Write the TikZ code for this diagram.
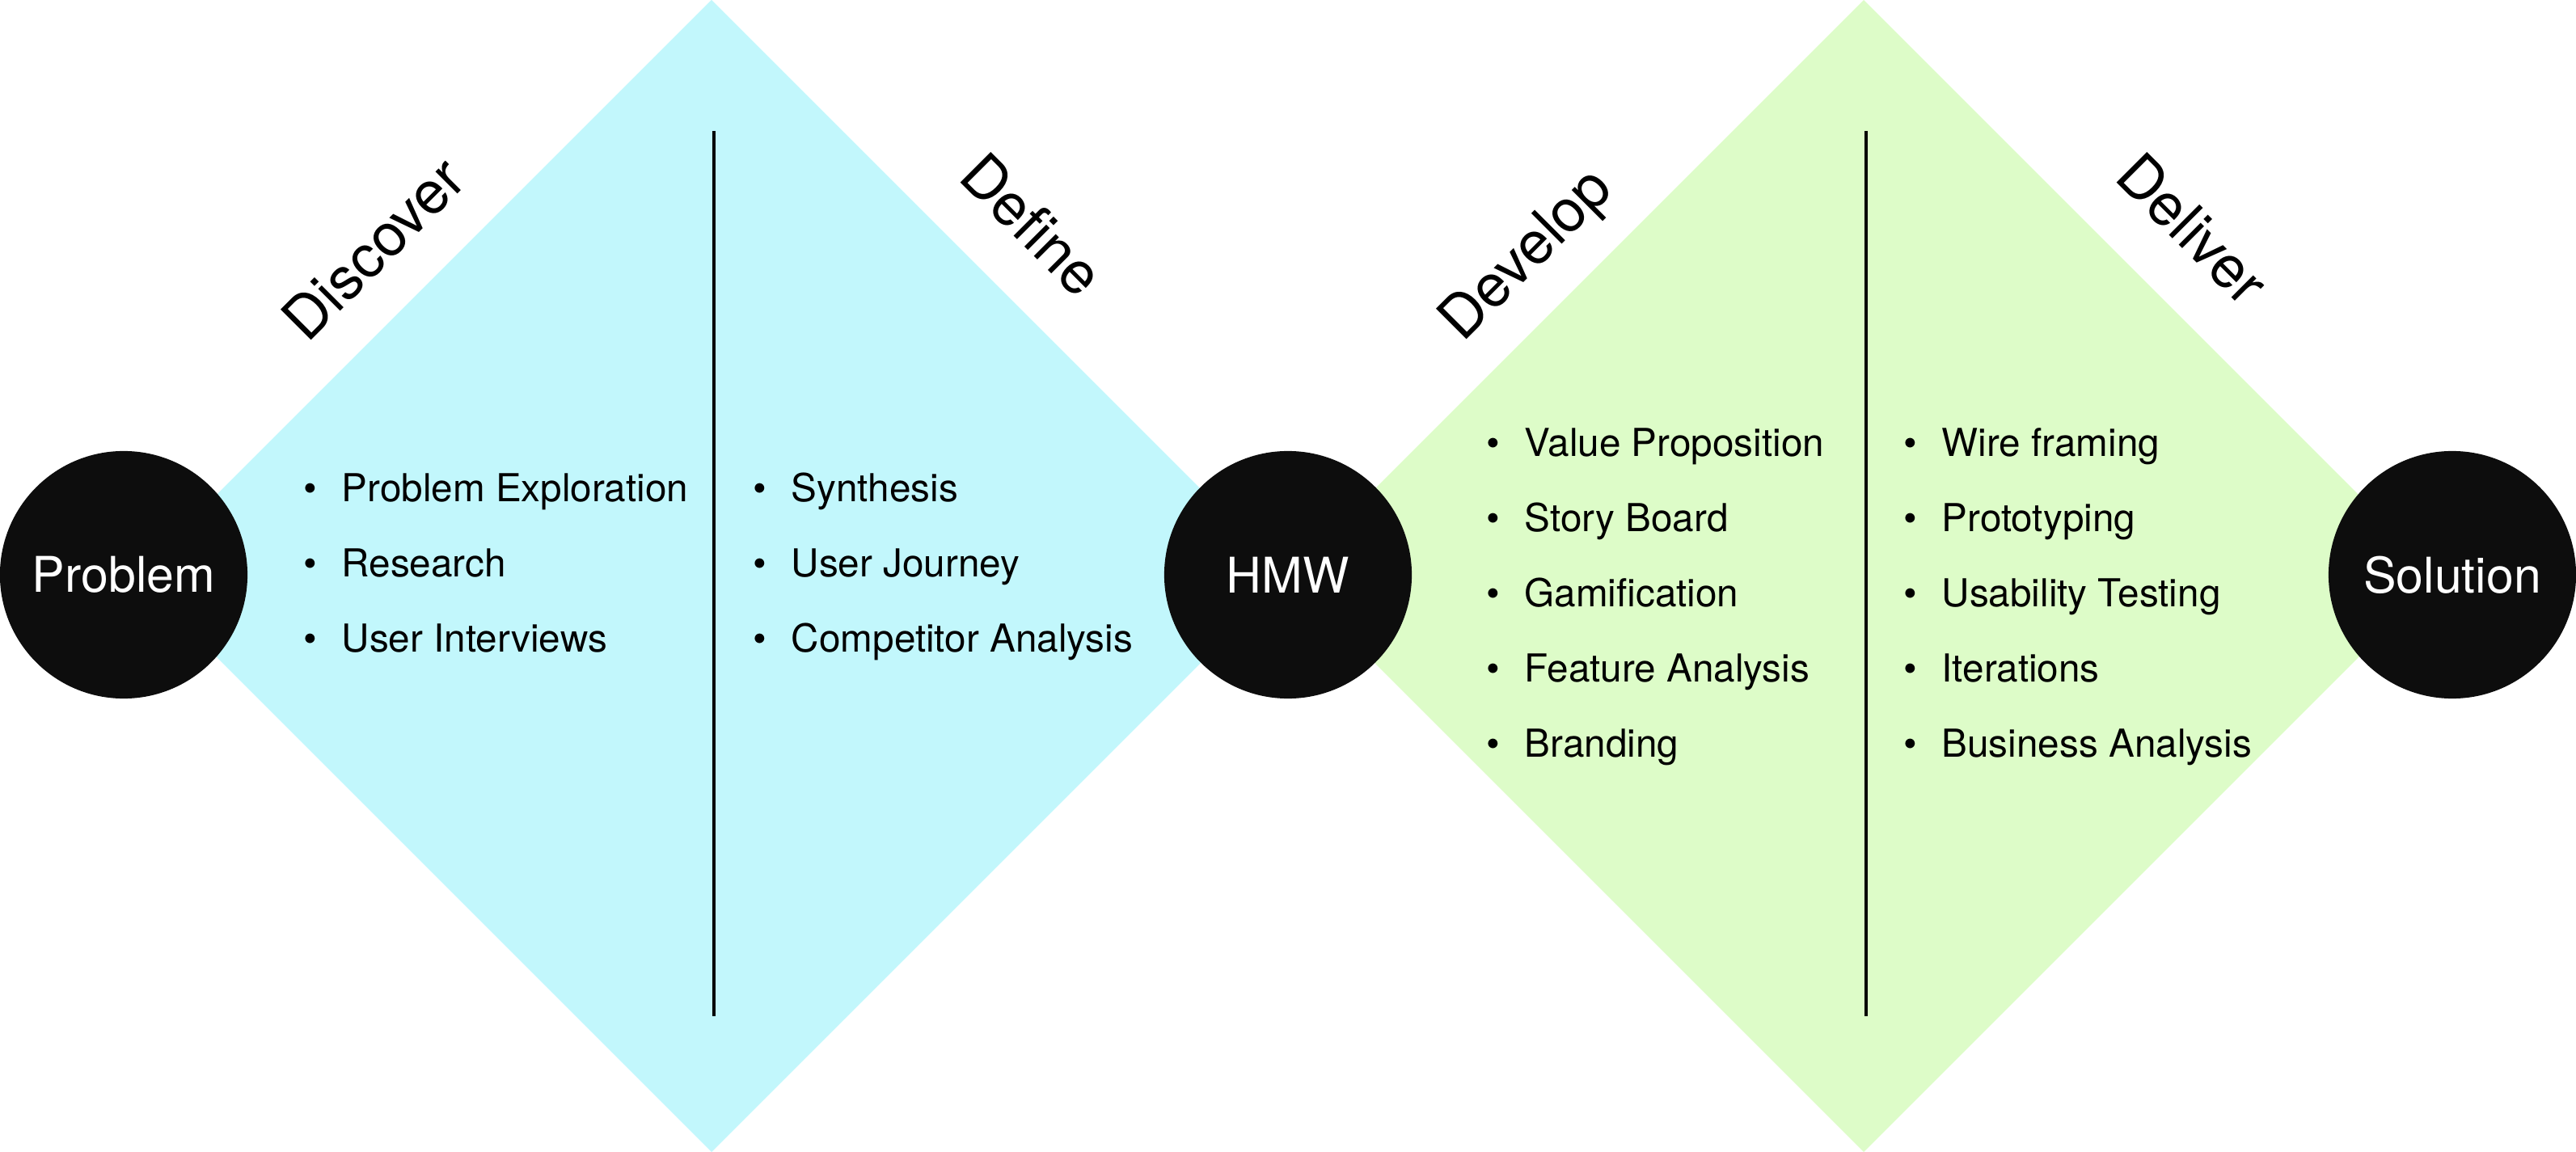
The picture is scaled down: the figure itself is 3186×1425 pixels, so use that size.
\documentclass[tikz,border=0pt]{standalone}
\usepackage{fontspec}
\setmainfont{TeX Gyre Heros}
\definecolor{cyanfill}{HTML}{C2F7FC}
\definecolor{greenfill}{HTML}{DDFCC8}
\definecolor{blackfill}{HTML}{0D0D0D}
\newcommand{\bitem}[1]{\llap{\textbullet\hspace{8.8pt}}#1}
\begin{document}
\begin{tikzpicture}[x=0.01cm,y=-0.01cm,
  circ/.style={circle,fill=blackfill,minimum size=3.06cm,inner sep=0pt,text=white,font=\fontsize{17.3pt}{20pt}\selectfont},
  phase/.style={anchor=base west,inner sep=0pt,font=\fontsize{20.8pt}{25pt}\selectfont},
  itemtext/.style={anchor=base west,inner sep=0pt,font=\fontsize{13.55pt}{16pt}\selectfont},
  divider/.style={line width=1.15pt,black}]
\useasboundingbox (0,0) rectangle (3186,1425);
% diamonds
\fill[cyanfill] (880,0) -- (1592.5,712.5) -- (880,1425) -- (167.5,712.5) -- cycle;
\fill[greenfill] (2305,0) -- (3017.5,712.5) -- (2305,1425) -- (1592.5,712.5) -- cycle;
% dividers
\coordinate (d1t) at (883,162);
\coordinate (d1b) at (883,1257);
\coordinate (d2t) at (2308,162);
\coordinate (d2b) at (2308,1257);
\draw[divider] (d1t) -- (d1b);
\draw[divider] (d2t) -- (d2b);
% circles
\node[circ] (problem) at (153,711) {Problem};
\node[circ] (hmw) at (1593,711) {HMW};
\node[circ] (solution) at (3033,711) {Solution};
% phase labels
\node[phase,rotate=45] (discover) at (380,426) {Discover};
\node[phase,rotate=-45] (define) at (1183,221) {Define};
\node[phase,rotate=45] (develop) at (1809,425) {Develop};
\node[phase,rotate=-45] (deliver) at (2613,221) {Deliver};
% items: discover
\node[itemtext] (i11) at (422,621) {\bitem{Problem Exploration}};
\node[itemtext] (i12) at (422,714) {\bitem{Research}};
\node[itemtext] (i13) at (422,807) {\bitem{User Interviews}};
% items: define
\node[itemtext] (i21) at (978,621) {\bitem{Synthesis}};
\node[itemtext] (i22) at (978,714) {\bitem{User Journey}};
\node[itemtext] (i23) at (978,807) {\bitem{Competitor Analysis}};
% items: develop
\node[itemtext] (i31) at (1885,565) {\bitem{Value Proposition}};
\node[itemtext] (i32) at (1885,658) {\bitem{Story Board}};
\node[itemtext] (i33) at (1885,751) {\bitem{Gamification}};
\node[itemtext] (i34) at (1885,844) {\bitem{Feature Analysis}};
\node[itemtext] (i35) at (1885,937) {\bitem{Branding}};
% items: deliver
\node[itemtext] (i41) at (2401,565) {\bitem{Wire framing}};
\node[itemtext] (i42) at (2401,658) {\bitem{Prototyping}};
\node[itemtext] (i43) at (2401,751) {\bitem{Usability Testing}};
\node[itemtext] (i44) at (2401,844) {\bitem{Iterations}};
\node[itemtext] (i45) at (2401,937) {\bitem{Business Analysis}};
\end{tikzpicture}
\end{document}
